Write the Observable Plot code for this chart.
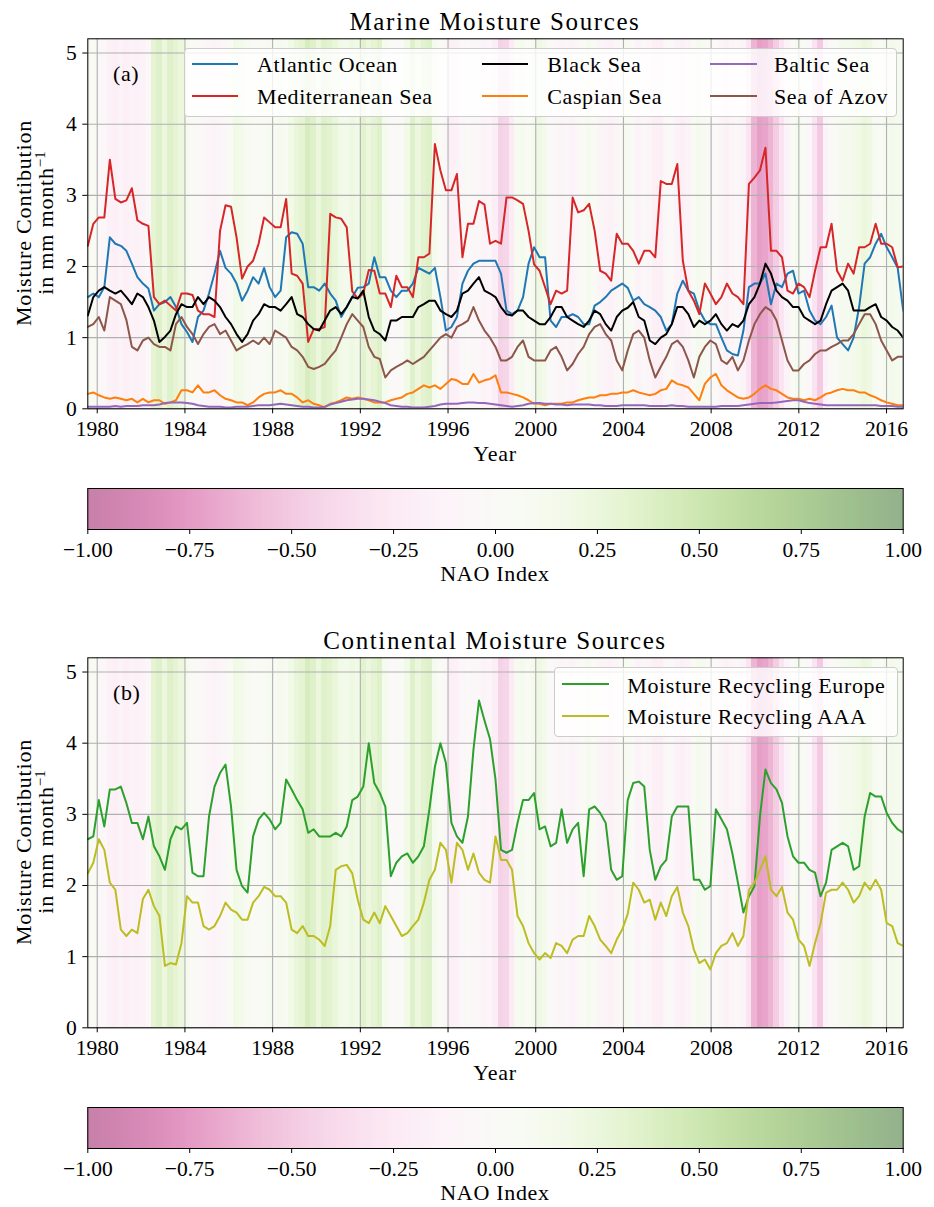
<!DOCTYPE html>
<html>
<head>
<meta charset="utf-8">
<script src="https://cdn.jsdelivr.net/npm/d3@7"></script>
<script src="https://cdn.jsdelivr.net/npm/@observablehq/plot@0.6"></script>
<style>
  html, body { margin: 0; padding: 0; background: #fff; }
  #fig { position: relative; width: 934px; height: 1207px; overflow: hidden; font-family: "Liberation Serif", "Times New Roman", serif; color: #000; }
  #fig svg { position: absolute; left: 0; overflow: visible; }
  .t { position: absolute; white-space: nowrap; }
  .legend { position: absolute; background: rgba(255,255,255,0.8); border: 1px solid #cccccc; border-radius: 4px; box-sizing: border-box; }
  .sw { position: absolute; height: 2px; }
</style>
</head>
<body>
<div id="fig"></div>
<script>
// ---------- data (quarterly readings, first to last month shown) ----------
const startYear = 1979.57;
const endYear = 2016.76;
const xTicks = [1980, 1984, 1988, 1992, 1996, 2000, 2004, 2008, 2012, 2016];
const yTicks = [0, 1, 2, 3, 4, 5];
const naoTicks = [-1, -0.75, -0.5, -0.25, 0, 0.25, 0.5, 0.75, 1];

const atlantic = [
1.57,1.62,1.57,1.71,2.41,2.32,2.29,2.22,2.04,1.85,
1.76,1.69,1.38,1.47,1.50,1.57,1.43,1.19,1.08,0.94,
1.29,1.38,1.62,1.90,2.22,1.98,1.90,1.76,1.52,1.66,
1.85,1.76,1.98,1.71,1.57,1.66,2.41,2.48,2.46,2.32,
1.71,1.71,1.66,1.76,1.62,1.52,1.29,1.43,1.57,1.70,
1.71,1.76,2.13,1.85,1.85,1.66,1.57,1.66,1.66,1.76,
1.98,1.94,1.90,1.98,1.57,1.10,1.15,1.29,1.76,1.94,
2.04,2.08,2.08,2.08,2.08,1.90,1.38,1.33,1.38,1.57,
2.04,2.27,2.13,2.13,1.24,1.15,1.29,1.29,1.33,1.29,
1.19,1.19,1.45,1.50,1.57,1.66,1.71,1.76,1.70,
1.52,1.57,1.47,1.43,1.38,1.29,1.10,1.19,1.62,1.80,
1.66,1.62,1.38,1.24,1.19,1.19,1.00,0.82,0.77,0.75,
1.10,1.71,1.76,1.76,1.90,1.47,1.76,1.71,1.90,1.94,
1.62,1.66,1.38,1.24,1.19,1.29,1.45,1.00,0.91,0.82,
1.00,1.43,2.04,2.13,2.32,2.46,2.27,2.13,1.98,1.38];

const mediterranean = [
2.29,2.60,2.69,2.69,3.50,2.95,2.90,2.93,3.10,2.65,
2.60,2.57,1.57,1.47,1.52,1.45,1.38,1.62,1.62,1.60,
1.38,1.33,1.33,1.29,2.50,2.86,2.84,2.41,1.83,2.00,
2.08,2.32,2.69,2.62,2.55,2.55,2.95,1.90,1.87,1.76,
0.94,1.12,1.12,1.15,2.74,2.69,2.67,2.55,1.65,1.55,
1.62,1.95,1.94,1.62,1.62,1.43,1.87,1.71,1.71,1.57,
2.13,2.13,2.18,3.72,3.35,3.07,3.07,3.30,2.13,2.60,
2.60,2.92,2.87,2.32,2.36,2.32,2.97,2.97,2.93,2.88,
2.50,2.03,1.94,1.71,1.47,1.66,1.62,1.66,2.97,2.76,
2.79,2.88,2.50,1.94,1.90,1.80,2.46,2.32,2.32,
2.22,2.04,2.22,2.22,2.13,3.20,3.16,3.16,3.44,2.08,
1.66,1.52,1.33,1.76,1.62,1.47,1.57,1.76,1.62,1.57,
1.47,3.16,3.25,3.35,3.67,2.22,2.22,2.13,1.66,1.62,
1.76,1.71,1.57,1.94,2.27,2.27,2.60,1.94,1.80,2.04,
1.90,2.27,2.27,2.32,2.60,2.32,2.32,2.27,1.99,2.00];

const blackSea = [
1.31,1.57,1.66,1.71,1.66,1.62,1.66,1.57,1.47,1.62,
1.57,1.43,1.24,0.94,1.01,1.10,1.33,1.47,1.43,1.43,
1.57,1.47,1.57,1.52,1.43,1.29,1.19,1.05,0.94,1.05,
1.24,1.33,1.47,1.43,1.43,1.38,1.47,1.57,1.33,1.29,
1.19,1.12,1.10,1.24,1.38,1.43,1.33,1.43,1.57,1.55,
1.66,1.29,1.10,1.05,0.96,1.24,1.24,1.29,1.29,1.29,
1.43,1.47,1.52,1.52,1.38,1.33,1.29,1.38,1.62,1.66,
1.76,1.85,1.66,1.62,1.57,1.43,1.33,1.31,1.38,1.38,
1.29,1.24,1.19,1.19,1.29,1.43,1.43,1.29,1.24,1.19,
1.15,1.24,1.38,1.33,1.19,1.10,1.29,1.38,1.42,
1.50,1.29,1.24,0.96,0.91,1.00,1.05,1.19,1.43,1.43,
1.33,1.15,1.24,1.19,1.24,1.33,1.19,1.10,1.19,1.15,
1.24,1.47,1.57,1.76,2.04,1.90,1.66,1.57,1.52,1.43,
1.43,1.29,1.24,1.19,1.24,1.47,1.66,1.71,1.76,1.66,
1.38,1.38,1.38,1.43,1.47,1.29,1.24,1.15,1.10,1.00];

const caspianSea = [
0.21,0.23,0.19,0.16,0.14,0.16,0.14,0.12,0.14,0.09,
0.14,0.09,0.12,0.12,0.07,0.09,0.12,0.26,0.26,0.23,
0.33,0.23,0.23,0.26,0.19,0.14,0.12,0.09,0.09,0.05,
0.09,0.16,0.21,0.23,0.23,0.26,0.21,0.21,0.16,0.09,
0.12,0.07,0.05,0.02,0.07,0.09,0.12,0.16,0.14,0.16,
0.14,0.12,0.09,0.09,0.09,0.12,0.14,0.16,0.21,0.23,
0.28,0.33,0.30,0.33,0.28,0.35,0.42,0.40,0.35,0.35,
0.49,0.37,0.40,0.42,0.47,0.23,0.23,0.21,0.19,0.16,
0.12,0.07,0.07,0.05,0.07,0.07,0.07,0.09,0.09,0.12,
0.14,0.16,0.16,0.19,0.19,0.21,0.21,0.23,0.23,
0.26,0.23,0.21,0.19,0.21,0.26,0.28,0.40,0.35,0.33,
0.30,0.21,0.12,0.35,0.44,0.49,0.33,0.26,0.21,0.16,
0.14,0.16,0.21,0.28,0.33,0.28,0.26,0.21,0.16,0.14,
0.14,0.12,0.14,0.12,0.16,0.21,0.23,0.26,0.28,0.26,
0.26,0.23,0.23,0.19,0.16,0.12,0.09,0.07,0.05,0.05];

const balticSea = [
0.03,0.03,0.03,0.03,0.03,0.04,0.03,0.04,0.04,0.04,
0.05,0.05,0.05,0.06,0.08,0.09,0.09,0.09,0.08,0.07,
0.05,0.04,0.03,0.03,0.03,0.02,0.02,0.03,0.03,0.03,
0.04,0.05,0.05,0.05,0.06,0.07,0.06,0.05,0.04,0.03,
0.03,0.02,0.02,0.03,0.06,0.08,0.10,0.12,0.13,0.14,
0.14,0.13,0.12,0.10,0.08,0.05,0.04,0.03,0.03,0.02,
0.02,0.02,0.03,0.04,0.06,0.07,0.07,0.07,0.08,0.09,
0.09,0.08,0.08,0.07,0.06,0.05,0.04,0.03,0.04,0.05,
0.07,0.08,0.08,0.07,0.07,0.06,0.06,0.05,0.06,0.06,
0.06,0.06,0.05,0.05,0.04,0.04,0.04,0.05,0.05,
0.05,0.05,0.05,0.04,0.04,0.04,0.04,0.05,0.04,0.04,
0.03,0.03,0.03,0.03,0.03,0.03,0.04,0.04,0.04,0.04,
0.05,0.06,0.07,0.08,0.08,0.08,0.09,0.10,0.11,0.12,
0.12,0.10,0.08,0.07,0.06,0.05,0.05,0.05,0.05,0.05,
0.05,0.05,0.05,0.05,0.05,0.04,0.04,0.04,0.03,0.03];

const seaOfAzov = [
1.15,1.19,1.29,1.10,1.57,1.52,1.47,1.25,0.87,0.82,
0.96,1.00,0.91,0.87,0.87,0.82,1.19,1.29,1.15,1.05,
0.91,1.05,1.15,1.19,1.05,1.10,0.96,0.82,0.87,0.91,
0.96,0.91,1.00,0.91,1.10,1.05,1.00,0.87,0.82,0.73,
0.59,0.56,0.59,0.63,0.73,0.82,1.00,1.19,1.33,1.24,
1.15,0.87,0.73,0.70,0.44,0.54,0.59,0.63,0.68,0.63,
0.68,0.73,0.82,0.91,1.00,1.05,1.00,1.15,1.19,1.24,
1.43,1.24,1.10,1.00,0.87,0.68,0.68,0.73,0.87,0.96,
0.73,0.68,0.68,0.68,0.82,0.87,0.73,0.54,0.63,0.77,
0.87,1.05,1.15,1.19,1.05,0.96,0.68,0.54,0.82,
1.05,1.10,1.00,0.68,0.44,0.59,0.73,0.91,0.96,0.87,
0.68,0.44,0.73,0.87,0.96,0.91,0.68,0.63,0.73,0.54,
0.68,0.96,1.19,1.33,1.43,1.38,1.24,0.96,0.68,0.54,
0.54,0.63,0.68,0.77,0.82,0.82,0.87,0.91,0.96,0.96,
1.05,1.19,1.33,1.33,1.19,0.96,0.82,0.68,0.73,0.73];

const recyclingEurope = [
2.65,2.69,3.20,2.83,3.35,3.35,3.39,3.16,2.88,2.88,
2.65,2.97,2.55,2.41,2.22,2.65,2.83,2.79,2.88,2.18,
2.13,2.13,2.97,3.39,3.58,3.70,3.11,2.22,1.99,1.90,
2.69,2.93,3.02,2.93,2.79,2.88,3.49,3.35,3.20,3.07,
2.74,2.79,2.69,2.69,2.69,2.74,2.69,2.83,3.20,3.25,
3.39,4.00,3.44,3.30,3.11,2.13,2.32,2.41,2.45,2.32,
2.41,2.55,3.07,3.67,4.00,3.72,2.88,2.69,2.60,2.97,
3.91,4.60,4.32,4.06,3.49,2.50,2.46,2.50,2.88,3.20,
3.20,3.30,2.79,2.83,2.55,2.60,3.07,2.60,2.79,2.88,
2.13,3.07,3.11,3.02,2.88,2.22,2.08,2.13,3.20,
3.44,3.46,3.39,2.50,2.08,2.27,2.36,2.97,3.11,3.11,
3.11,2.08,2.08,1.94,1.99,3.07,2.93,2.79,2.45,2.04,
1.62,1.85,1.99,2.97,3.63,3.44,3.35,3.16,2.69,2.41,
2.32,2.32,2.22,2.18,1.85,2.04,2.50,2.55,2.60,2.55,
2.22,2.27,2.97,3.30,3.25,3.25,3.02,2.88,2.79,2.74];

const recyclingAAA = [
2.17,2.32,2.65,2.50,2.04,1.94,1.38,1.29,1.38,1.33,
1.81,1.94,1.71,1.57,0.87,0.91,0.89,1.19,1.85,1.76,
1.76,1.43,1.38,1.43,1.57,1.76,1.66,1.62,1.52,1.52,
1.76,1.85,1.98,1.94,1.85,1.85,1.76,1.38,1.33,1.43,
1.29,1.29,1.24,1.15,1.43,2.22,2.27,2.29,2.17,1.80,
1.52,1.47,1.62,1.47,1.71,1.57,1.43,1.29,1.33,1.43,
1.52,1.76,2.08,2.22,2.60,2.50,2.04,2.60,2.50,2.22,
2.45,2.18,2.08,2.04,2.69,2.36,2.36,2.22,1.57,1.43,
1.19,1.05,0.96,1.05,0.98,1.19,1.15,1.05,1.24,1.29,
1.29,1.57,1.43,1.24,1.15,1.05,1.24,1.38,1.60,
2.04,1.94,1.76,1.80,1.52,1.76,1.57,1.85,1.98,1.62,
1.43,1.10,0.91,0.96,0.82,1.05,1.15,1.19,1.33,1.15,
1.29,1.94,2.04,2.22,2.41,1.94,1.85,1.98,1.62,1.52,
1.24,1.15,0.87,1.19,1.47,1.90,1.94,1.94,2.04,1.94,
1.76,1.85,2.04,1.94,2.08,1.94,1.47,1.43,1.19,1.15];

const naoIndex = [
0.15,0.06,-0.06,-0.06,-0.15,-0.18,-0.12,-0.18,-0.12,-0.15,
-0.12,-0.06,0.30,0.36,0.24,0.36,0.30,0.24,0.12,0.06,
-0.03,-0.06,-0.09,-0.12,-0.09,-0.06,0.06,0.18,0.15,0.09,
0.03,0.06,0.03,0.09,0.06,0.12,0.09,0.18,0.27,0.30,
0.42,0.36,0.24,0.36,0.33,0.27,0.18,0.15,0.21,0.18,
0.33,0.24,0.30,0.36,0.12,0.00,-0.03,0.03,0.18,0.36,
0.24,0.33,0.36,0.12,0.06,-0.06,-0.18,-0.15,-0.06,-0.03,
-0.06,-0.06,-0.12,-0.09,-0.20,-0.45,-0.42,-0.24,0.09,0.12,
0.06,0.12,0.21,0.15,-0.03,-0.06,-0.09,-0.06,-0.12,-0.06,
0.06,0.12,0.06,-0.09,-0.12,-0.15,-0.09,0.06,0.09,
0.03,-0.12,-0.06,-0.09,-0.18,-0.18,-0.06,-0.03,-0.12,-0.18,
-0.12,0.06,0.12,0.09,0.00,-0.03,-0.09,-0.15,-0.09,-0.06,
-0.12,-0.30,-0.62,-0.72,-0.70,-0.62,-0.48,-0.30,-0.12,0.06,
0.12,0.03,-0.06,-0.30,-0.50,-0.12,-0.03,0.06,0.12,0.12,
0.15,0.18,0.24,0.21,0.09,0.06,0.12,0.15,0.12,0.09];

// ---------- layout ----------
const FONT = '"Liberation Serif", "Times New Roman", serif';
const W = 934;
const ML = 87.3, MR = 31.3;
const N = naoIndex.length;
const step = (endYear - startYear) / (N - 1);
const years = naoIndex.map((_, i) => startYear + i * step);
const fig = document.getElementById("fig");

function addText(html, cx, cy, size, opts = {}) {
  const d = document.createElement("div");
  d.className = "t";
  d.style.fontSize = size + "px";
  d.style.lineHeight = size + "px";
  d.style.letterSpacing = (opts.ls ?? 0.6) + "px";
  d.innerHTML = html;
  d.style.top = (cy - size * 0.5) + "px";
  d.style.left = cx + "px";
  if (opts.anchor !== "start") d.style.transform = "translateX(-50%)";
  fig.appendChild(d);
  return d;
}

function drawPanel(top, cfg) {
  const bands = naoIndex.map((v, i) => ({x1: years[i] - step / 2, x2: years[i] + step / 2, nao: v}));
  const marks = [
    Plot.rect(bands, {x1: "x1", x2: "x2", y1: 0, y2: 5.2, fill: "nao", fillOpacity: 0.5, clip: true, shapeRendering: "crispEdges"}),
    Plot.gridX(xTicks, {stroke: "#b0b0b0", strokeOpacity: 1, strokeWidth: 1.1}),
    Plot.gridY(yTicks, {stroke: "#b0b0b0", strokeOpacity: 1, strokeWidth: 1.1})
  ];
  for (const s of cfg.series) {
    marks.push(Plot.line(s.values.map((v, i) => ({t: years[i], v})), {x: "t", y: "v", stroke: s.color, strokeWidth: 2, clip: true}));
  }
  marks.push(Plot.frame({stroke: "#000", strokeWidth: 1}));
  marks.push(Plot.axisX(xTicks, {tickSize: 5, tickPadding: 7, tickFormat: d => String(d), label: null}));
  marks.push(Plot.axisY(yTicks, {tickSize: 5, tickPadding: 6, tickFormat: d => String(d), label: null}));
  const svg = Plot.plot({
    width: W, height: 466,
    marginTop: 38.3, marginBottom: 57.7, marginLeft: ML, marginRight: MR,
    x: {domain: [startYear, endYear]},
    y: {domain: [0, 5.2]},
    color: {type: "linear", scheme: "PiYG", domain: [-1, 1]},
    style: {fontFamily: FONT, fontSize: "21.5px", color: "#000", background: "transparent"},
    marks
  });
  svg.style.top = top + "px";
  fig.appendChild(svg);

  // colorbar
  const ramp = d3.range(256).map(i => ({x1: -1 + i * 2 / 256, x2: -1 + (i + 1) * 2 / 256, v: -1 + (i + 0.5) * 2 / 256}));
  const cb = Plot.plot({
    width: W, height: 100,
    marginTop: 0, marginBottom: 59, marginLeft: ML, marginRight: MR,
    x: {domain: [-1, 1]},
    y: {domain: [0, 1], axis: null},
    color: {type: "linear", scheme: "PiYG", domain: [-1, 1]},
    style: {fontFamily: FONT, fontSize: "21.5px", color: "#000", background: "transparent"},
    marks: [
      Plot.rect(ramp, {x1: "x1", x2: "x2", y1: 0, y2: 1, fill: "v", fillOpacity: 0.5, shapeRendering: "crispEdges"}),
      Plot.frame({stroke: "#000", strokeWidth: 1}),
      Plot.axisX(naoTicks, {tickSize: 5, tickPadding: 7, tickFormat: d3.format(".2f"), label: null})
    ]
  });
  cb.style.top = (top + 488.3) + "px";
  fig.appendChild(cb);

  // texts
  const cx = (ML + (W - MR)) / 2;
  addText(cfg.title, cx, top + 21, 25, {ls: 1.6});
  addText("Year", cx, top + 454, 22, {ls: 0.7});
  addText("NAO Index", cx, top + 574, 22, {ls: 0.7});
  addText(cfg.tag, 113, top + 73.5, 22, {anchor: "start", ls: 0.6});

  const yl = document.createElement("div");
  yl.className = "t";
  yl.style.cssText = `left:36px;top:${top + 223}px;font-size:22px;line-height:22px;letter-spacing:0.8px;text-align:center;transform:translate(-50%,-50%) rotate(-90deg);`;
  yl.innerHTML = 'Moisture Contibution<br>in mm month<span style="font-size:15px;position:relative;top:-8px;letter-spacing:0">−1</span>';
  fig.appendChild(yl);

  // legend
  const L = cfg.legend;
  const box = document.createElement("div");
  box.className = "legend";
  box.style.left = L.left + "px";
  box.style.top = (top + L.top) + "px";
  box.style.width = L.width + "px";
  box.style.height = L.height + "px";
  fig.appendChild(box);
  for (const e of L.entries) {
    const sw = document.createElement("div");
    sw.className = "sw";
    sw.style.left = e.sx + "px";
    sw.style.width = "46.6px";
    sw.style.top = (top + e.y - 1) + "px";
    sw.style.background = e.color;
    fig.appendChild(sw);
    addText(e.label, e.tx, top + e.y + 1.2, 22, {anchor: "start", ls: 0.6});
  }
}

const C = {atl: "#1f77b4", med: "#d62728", blk: "#000000", cas: "#ff7f0e", bal: "#9467bd", azv: "#8c564b", eur: "#2ca02c", aaa: "#bcbd22"};

drawPanel(0, {
  title: "Marine Moisture Sources",
  tag: "(a)",
  series: [
    {values: atlantic, color: C.atl},
    {values: mediterranean, color: C.med},
    {values: blackSea, color: C.blk},
    {values: caspianSea, color: C.cas},
    {values: balticSea, color: C.bal},
    {values: seaOfAzov, color: C.azv}
  ],
  legend: {
    left: 184, top: 48, width: 713, height: 69,
    entries: [
      {label: "Atlantic Ocean", color: C.atl, sx: 191.7, tx: 257, y: 64},
      {label: "Mediterranean Sea", color: C.med, sx: 191.7, tx: 257, y: 96},
      {label: "Black Sea", color: C.blk, sx: 481.7, tx: 547.3, y: 64},
      {label: "Caspian Sea", color: C.cas, sx: 481.7, tx: 547.3, y: 96},
      {label: "Baltic Sea", color: C.bal, sx: 710, tx: 774, y: 64},
      {label: "Sea of Azov", color: C.azv, sx: 710, tx: 774, y: 96}
    ]
  }
});

drawPanel(619, {
  title: "Continental Moisture Sources",
  tag: "(b)",
  series: [
    {values: recyclingEurope, color: C.eur},
    {values: recyclingAAA, color: C.aaa}
  ],
  legend: {
    left: 554, top: 48.3, width: 344.3, height: 70,
    entries: [
      {label: "Moisture Recycling Europe", color: C.eur, sx: 562.3, tx: 627.3, y: 65.3},
      {label: "Moisture Recycling AAA", color: C.aaa, sx: 562.3, tx: 627.3, y: 96.7}
    ]
  }
});
</script>
</body>
</html>
